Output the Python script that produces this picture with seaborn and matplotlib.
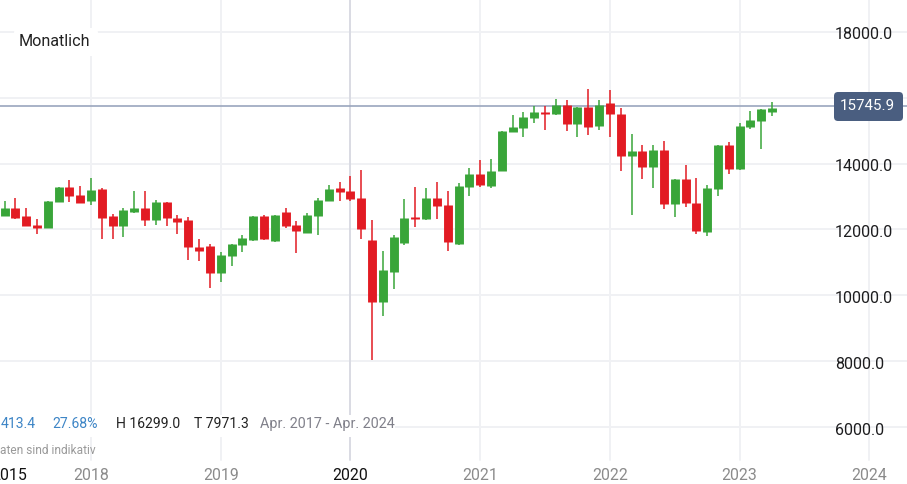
import matplotlib
matplotlib.use("Agg")
import matplotlib.pyplot as plt
from matplotlib.patches import FancyBboxPatch, Rectangle
from matplotlib.transforms import IdentityTransform, ScaledTranslation
import numpy as np
import pandas as pd
import seaborn as sns

W, H = 907, 484

# monthly candles, May 2017 - Apr 2023, month number 0 = Jan 2018
opens = [12420, 12640, 12410, 12120, 12050, 12830, 13290, 13030, 12870, 13230, 12400, 12090,
         12540, 12640, 12270, 12840, 12360, 12270, 11470, 11490, 10670, 11190, 11530, 11690,
         12400, 11640, 12530, 12120, 11880, 12420, 12870, 13250, 13160, 12940, 11670, 9780,
         10710, 11590, 12370, 12310, 12940, 12740, 11570, 13280, 13690, 13330, 13780, 14970,
         15090, 15380, 15550, 15510, 15790, 15190, 15710, 15140, 15830, 15510, 14230, 14370,
         13890, 14410, 12780, 13520, 12810, 11930, 13240, 14560, 13840, 15120, 15290, 15570]
highs = [12860, 12940, 12660, 12310, 12860, 13290, 13510, 13330, 13570, 13270, 12470, 12640,
         13180, 13160, 12880, 12840, 12450, 12380, 11700, 11560, 11320, 11560, 11830, 12400,
         12450, 12440, 12640, 12260, 12490, 12960, 13360, 13440, 13620, 13810, 12270, 11350,
         11840, 12930, 13290, 13250, 13440, 13160, 13420, 13870, 14110, 14150, 14990, 15480,
         15550, 15750, 15750, 15960, 15930, 15710, 16250, 15930, 16230, 15690, 14890, 14560,
         14560, 14670, 13540, 13940, 13550, 13350, 14560, 14640, 15230, 15600, 15660, 15860]
lows = [12420, 12300, 12090, 11870, 12050, 12830, 12840, 12810, 12740, 11700, 11700, 11780,
        12500, 12110, 12130, 12110, 11870, 11080, 11030, 10210, 10400, 10880, 11310, 11660,
        11680, 11610, 12050, 11270, 11880, 11830, 12870, 12860, 12860, 11720, 8040, 9370,
        10190, 11530, 12080, 12290, 12330, 11340, 11530, 13000, 13300, 13250, 13780, 14970,
        14790, 15240, 15010, 15460, 14980, 14790, 14880, 15020, 14810, 13780, 12440, 13520,
        13260, 12610, 12390, 12690, 11870, 11810, 13020, 13680, 13810, 15060, 14430, 15440]
closes = [12640, 12350, 12090, 12050, 12860, 13290, 13000, 12810, 13200, 12350, 12090, 12580,
          12640, 12270, 12840, 12350, 12230, 11450, 11340, 10670, 11210, 11560, 11730, 12400,
          11700, 12440, 12110, 11960, 12450, 12900, 13220, 13130, 12910, 12010, 9810, 10760,
          11760, 12360, 12330, 12940, 12700, 11620, 13310, 13690, 13360, 13780, 14990, 15120,
          15400, 15550, 15510, 15790, 15190, 15710, 15120, 15790, 15490, 14230, 14370, 13890,
          14410, 12780, 13540, 12810, 11960, 13270, 14560, 13820, 15140, 15310, 15640, 15700]
first_month = -8

y_ticks = [18000, 16000, 14000, 12000, 10000, 8000, 6000]
year_ticks = [2018, 2019, 2020, 2021, 2022, 2023, 2024]
last_price = 15745.9

RED = "#e21b23"
GREEN = "#39a539"
GRID = "#f0f1f4"

sns.set_theme(style="white")
plt.rcParams["font.family"] = ["Roboto", "DejaVu Sans"]

months = first_month + np.arange(len(opens))
df = pd.DataFrame({"month": months, "open": opens, "high": highs, "low": lows, "close": closes})
df["direction"] = np.where(df["close"] >= df["open"], "up", "down")
palette = {"up": GREEN, "down": RED}

wicks = df.melt(id_vars=["month", "direction"], value_vars=["low", "high"], value_name="price")
bodies = df.melt(id_vars=["month", "direction"], value_vars=["open", "close"], value_name="price")

fig = plt.figure(figsize=(W / 100, H / 100), dpi=100)
ax = fig.add_axes([0, 0, 1, 1])
ax.set_xlim(-91 / 10.81, (W - 91) / 10.81)
ax.set_ylim(14000 - 320.5 * 30.36, 14000 + 163.5 * 30.36)

# grid
for v in y_ticks:
    ax.axhline(v, color=GRID, lw=1.4, zorder=1)
for y in year_ticks:
    col = "#d9dbe3" if y == 2020 else GRID
    ax.axvline((y - 2018) * 12, ymin=(H - 460) / H, color=col, lw=1.4, zorder=1)

ax.axhline(last_price, color="#9aa6bd", lw=1.2, zorder=2)

sns.lineplot(data=wicks, x="month", y="price", hue="direction", units="month", estimator=None,
             palette=palette, linewidth=1.1, legend=False, ax=ax, zorder=3,
             solid_capstyle="butt")
sns.lineplot(data=bodies, x="month", y="price", hue="direction", units="month", estimator=None,
             palette=palette, linewidth=6.4, legend=False, ax=ax, zorder=4,
             solid_capstyle="butt")

ax.set(xlabel=None, ylabel=None)
sns.despine(ax=ax, left=True, bottom=True)
ax.set_axisbelow(False)

ax.yaxis.tick_right()
ax.set_yticks(y_ticks)
# 16000 sits behind the price tag in the original
ax.set_yticklabels(["" if v == 16000 else f"{v:.1f}" for v in y_ticks])
ax.tick_params(axis="y", length=0, direction="in", pad=-52, labelsize=11.5, labelcolor="#1d1d1f")
shift = ScaledTranslation(0, -1.5 / 100, fig.dpi_scale_trans)
for lab in ax.get_yticklabels():
    lab.set_transform(lab.get_transform() + shift)

x_pos = [-7.6] + [(y - 2018) * 12 for y in year_ticks]
ax.set_xticks(x_pos)
ax.set_xticklabels(["2015"] + [str(y) for y in year_ticks])
ax.tick_params(axis="x", length=0, direction="in", pad=-11.2, labelsize=11.4)
for lab, y in zip(ax.get_xticklabels(), [2015] + year_ticks):
    lab.set_color("#111111" if y in (2015, 2020) else "#8b8b8b")


def px(x, y):
    return x / W, 1 - y / H


# white panels over the grid, then the overlay texts
fig.add_artist(Rectangle(px(0, 437), 395 / W, 22 / H, transform=fig.transFigure,
                         facecolor="white", edgecolor="none", zorder=5))
fig.add_artist(FancyBboxPatch((14, H - 56), 84, 28, boxstyle="round,pad=0,rounding_size=5",
                              transform=IdentityTransform(), facecolor="white",
                              edgecolor="none", zorder=5))
fig.add_artist(FancyBboxPatch((834, H - 121), 69, 29, boxstyle="round,pad=0,rounding_size=4",
                              transform=IdentityTransform(), facecolor="#4a5e80",
                              edgecolor="none", zorder=5))


def label(x, y, s, color, size=10.1, ha="left"):
    fig.text(*px(x, y), s, color=color, fontsize=size, ha=ha, va="center", zorder=6)


label(19, 42, "Monatlich", "#222222", 11.6)
label(867, 106.5, "15745.9", "white", 10.9, ha="center")
label(1, 424, "413.4", "#3d85c6")
label(52, 424, "27.68%", "#3d85c6")
label(116, 424, "H 16299.0", "#222222")
label(194, 424, "T 7971.3", "#222222")
label(260, 424, "Apr. 2017 - Apr. 2024", "#80808a", 10.4)
label(0, 450, "aten sind indikativ", "#9a9a9a", 8.6)

fig.savefig("out.png", dpi=100)
